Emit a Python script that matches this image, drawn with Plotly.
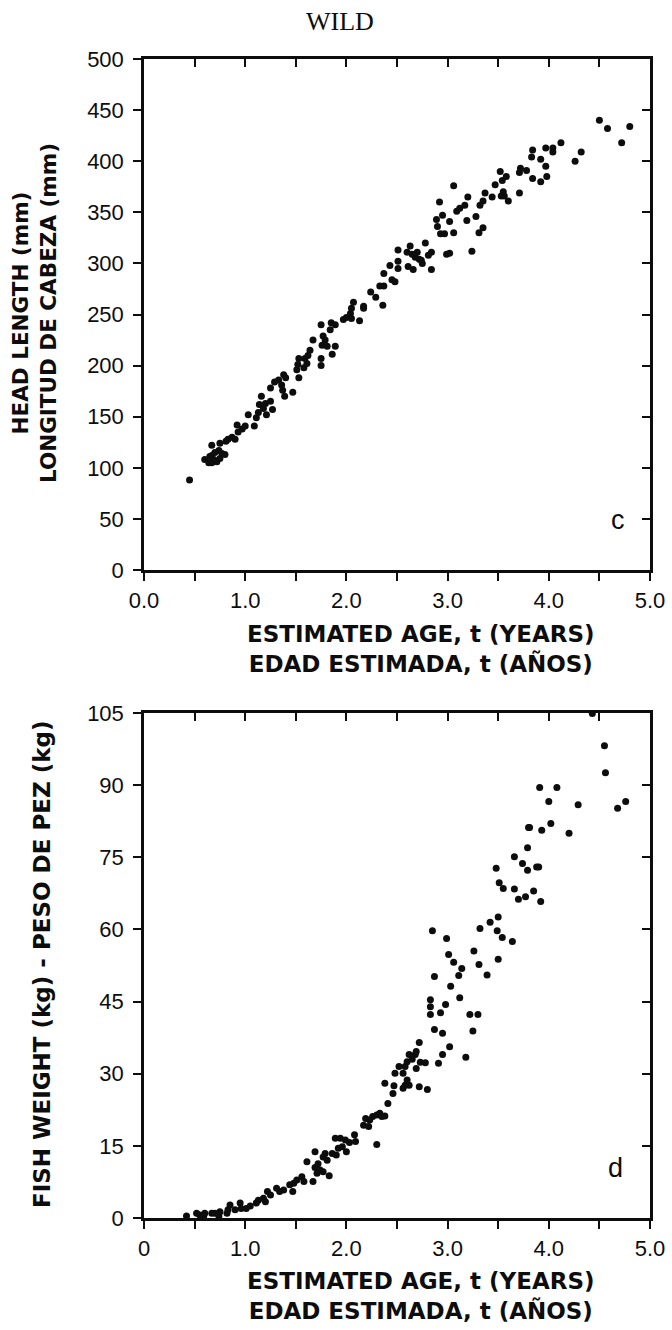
import plotly.graph_objects as go

# ---------------- data ----------------
# Panel c: head length (mm) vs estimated age (years)
age_c = [0.45,
         0.60, 0.64, 0.65, 0.67, 0.67, 0.67, 0.69, 0.70, 0.72, 0.74, 0.75, 0.75, 0.77, 0.80, 0.81,
         0.83, 0.87, 0.90, 0.92, 0.93, 0.97, 1.00, 1.03, 1.09, 1.11, 1.13, 1.14, 1.16, 1.18, 1.20,
         1.21, 1.25, 1.25, 1.27, 1.29, 1.33, 1.36, 1.37, 1.38, 1.39, 1.40, 1.47, 1.51, 1.52, 1.53,
         1.53, 1.58, 1.59, 1.61, 1.62, 1.64, 1.67, 1.75, 1.75, 1.75, 1.76, 1.77, 1.79, 1.81, 1.84,
         1.85, 1.86, 1.89, 1.89, 1.97, 2.00, 2.04, 2.05, 2.05, 2.07, 2.13, 2.17, 2.17, 2.24, 2.29,
         2.33, 2.36, 2.37, 2.37, 2.43, 2.45, 2.48, 2.51, 2.51, 2.51, 2.60, 2.61, 2.63, 2.65, 2.66,
         2.68, 2.70, 2.72, 2.74, 2.75, 2.78, 2.81, 2.84, 2.84, 2.89, 2.90, 2.92, 2.93, 2.95, 2.97,
         2.99, 3.02, 3.02, 3.06, 3.06, 3.09, 3.12, 3.17, 3.19, 3.20, 3.24, 3.28, 3.31, 3.32, 3.35,
         3.35, 3.37, 3.44, 3.47, 3.52, 3.53, 3.54, 3.55, 3.56, 3.58, 3.60, 3.71, 3.71, 3.72, 3.78,
         3.83, 3.84, 3.84, 3.92, 3.92, 3.97, 3.97, 3.98, 4.04, 4.04, 4.12, 4.26, 4.32, 4.50, 4.58,
         4.72, 4.80]
head_len = [88,
            108, 105, 111, 122, 105, 112, 108, 115, 106, 117, 124, 109, 114, 113, 126,
            128, 130, 128, 142, 135, 138, 141, 152, 141, 149, 154, 162, 170, 158, 163,
            152, 165, 178, 157, 184, 186, 181, 176, 191, 170, 188, 174, 196, 201, 207,
            188, 198, 207, 202, 210, 215, 225, 240, 207, 200, 220, 229, 225, 219, 235,
            242, 211, 240, 219, 245, 247, 251, 256, 246, 262, 244, 258, 256, 272, 267,
            278, 259, 290, 278, 298, 284, 282, 313, 302, 295, 311, 297, 317, 309, 294,
            306, 311, 304, 303, 300, 320, 308, 311, 294, 343, 336, 360, 329, 347, 329,
            309, 341, 310, 376, 330, 351, 354, 357, 342, 365, 312, 346, 330, 357, 361,
            335, 369, 365, 377, 390, 366, 381, 370, 366, 385, 361, 389, 369, 393, 391,
            404, 411, 383, 402, 380, 413, 395, 385, 413, 409, 418, 400, 409, 440, 432,
            418, 434]

# Panel d: fish weight (kg) vs estimated age (years)
age_d = [0.42, 0.52, 0.55, 0.59, 0.60, 0.67, 0.70, 0.74, 0.75, 0.82, 0.83, 0.85, 0.90, 0.95,
         0.96, 1.01, 1.05, 1.11, 1.13, 1.18, 1.20, 1.22, 1.25, 1.31, 1.34, 1.38, 1.44, 1.47,
         1.48, 1.51, 1.56, 1.58, 1.61, 1.67, 1.69, 1.69, 1.71, 1.72, 1.74, 1.77, 1.77, 1.79,
         1.81, 1.83, 1.86, 1.89, 1.90, 1.92, 1.94, 1.96, 1.99, 2.00, 2.03, 2.08, 2.09, 2.17,
         2.19, 2.22, 2.23, 2.26, 2.30, 2.30, 2.33, 2.35, 2.38, 2.38, 2.41, 2.46, 2.47, 2.48,
         2.52, 2.56, 2.56, 2.58, 2.58, 2.60, 2.60, 2.62, 2.62, 2.65, 2.68, 2.69, 2.69, 2.72,
         2.72, 2.73, 2.78, 2.80, 2.83, 2.83, 2.83, 2.85, 2.87, 2.87, 2.91, 2.93, 2.95, 2.95,
         2.98, 2.99, 3.01, 3.02, 3.03, 3.06, 3.11, 3.12, 3.14, 3.18, 3.22, 3.25, 3.26, 3.30,
         3.31, 3.32, 3.39, 3.42, 3.48, 3.49, 3.50, 3.50, 3.51, 3.54, 3.55, 3.64, 3.66, 3.66,
         3.70, 3.74, 3.77, 3.79, 3.79, 3.80, 3.81, 3.85, 3.88, 3.90, 3.91, 3.92, 3.93, 4.00,
         4.02, 4.08, 4.20, 4.29, 4.43, 4.55, 4.56, 4.68, 4.76]
weight = [0.4, 1.0, 0.6, 0.4, 1.0, 1.0, 1.0, 0.4, 1.3, 1.0, 1.7, 2.7, 1.7, 3.1,
          2.0, 2.0, 2.5, 3.1, 3.7, 4.1, 3.4, 5.5, 4.8, 6.2, 5.5, 5.8, 6.9, 5.5,
          7.2, 7.9, 8.6, 7.6, 11.7, 7.6, 13.8, 10.5, 9.3, 11.3, 10.0, 12.7, 9.6, 13.4,
          12.0, 8.8, 13.4, 16.6, 13.1, 14.5, 16.6, 14.8, 16.2, 13.8, 15.7, 17.3, 15.9, 19.3,
          20.7, 19.0, 20.4, 21.1, 21.4, 15.3, 21.8, 21.1, 21.2, 28.0, 23.8, 25.9, 27.5, 30.1,
          31.5, 30.1, 27.0, 31.5, 27.6, 32.5, 28.7, 34.0, 27.6, 33.0, 34.0, 34.6, 31.1, 36.5,
          27.3, 32.4, 32.3, 26.7, 45.4, 43.9, 42.3, 59.7, 50.2, 39.2, 32.2, 42.7, 38.4, 34.0,
          44.4, 58.1, 54.8, 35.6, 48.2, 53.2, 50.4, 45.8, 51.9, 33.4, 42.3, 38.9, 55.5, 42.3,
          52.7, 60.2, 50.5, 61.5, 72.7, 59.7, 62.6, 53.8, 69.7, 58.3, 68.5, 57.5, 75.1, 68.4,
          66.3, 73.7, 66.8, 77.0, 72.3, 81.2, 81.2, 68.0, 73.0, 73.0, 89.5, 65.8, 80.6, 86.6,
          82.0, 89.5, 80.0, 85.9, 104.9, 98.2, 92.6, 85.2, 86.6]

x_ticks = [0, 0.5, 1.0, 1.5, 2.0, 2.5, 3.0, 3.5, 4.0, 4.5, 5.0]
x_text_c = ["0.0", "", "1.0", "", "2.0", "", "3.0", "", "4.0", "", "5.0"]
x_text_d = ["0", "", "1.0", "", "2.0", "", "3.0", "", "4.0", "", "5.0"]
y_ticks_c = [0, 50, 100, 150, 200, 250, 300, 350, 400, 450, 500]
y_ticks_d = [0, 15, 30, 45, 60, 75, 90, 105]

# ---------------- layout helpers ----------------
W, H = 672, 1330
def px(x):
    return x / W
def py(y):
    return 1 - y / H

X_DOM = [px(144), px(650)]
C_DOM = [py(570), py(59)]
D_DOM = [py(1218), py(713)]

INK = "#0d0d0d"
TICK_FONT = dict(family="Liberation Sans, Arial, sans-serif", size=22, color=INK)

fig = go.Figure()
marker = dict(size=7, color=INK, line=dict(width=0))
fig.add_trace(go.Scatter(x=age_c, y=head_len, mode="markers", marker=marker,
                         xaxis="x", yaxis="y", showlegend=False, hoverinfo="skip"))
fig.add_trace(go.Scatter(x=age_d, y=weight, mode="markers", marker=marker,
                         xaxis="x2", yaxis="y2", showlegend=False, hoverinfo="skip"))
# empty traces that carry the inward-tick frame axes (top / right)
fig.add_trace(go.Scatter(x=[], y=[], xaxis="x3", yaxis="y3", showlegend=False))
fig.add_trace(go.Scatter(x=[], y=[], xaxis="x4", yaxis="y4", showlegend=False))

COMMON = dict(ticklen=8, tickwidth=2, tickcolor=INK, showline=True, linewidth=2.5,
              linecolor=INK, showgrid=False, zeroline=False, automargin=False,
              fixedrange=True)

def main_x(text, anchor):
    return dict(domain=X_DOM, range=[0, 5], anchor=anchor, tickmode="array",
                tickvals=x_ticks, ticktext=text, ticks="outside",
                tickfont=TICK_FONT, ticklabelstandoff=1, **COMMON)

def main_y(vals, dom, anchor):
    return dict(domain=dom, range=[0, vals[-1]], anchor=anchor, tickmode="array",
                tickvals=vals, ticks="outside", tickfont=TICK_FONT,
                ticklabelstandoff=5, **COMMON)

def frame_x(over, anchor):
    return dict(overlaying=over, side="top", anchor=anchor, range=[0, 5],
                tickmode="array", tickvals=x_ticks, ticks="inside",
                showticklabels=False, **COMMON)

def frame_y(over, vals, anchor):
    return dict(overlaying=over, side="right", anchor=anchor, range=[0, vals[-1]],
                tickmode="array", tickvals=vals, ticks="inside",
                showticklabels=False, **COMMON)

ann = []
def text(x, y, s, font, angle=0, xanchor="center", yanchor="middle"):
    ann.append(dict(x=px(x), y=py(y), xref="paper", yref="paper", text=s,
                    showarrow=False, font=font, textangle=angle,
                    xanchor=xanchor, yanchor=yanchor))

SERIF = dict(family="Liberation Serif, Times New Roman, serif", size=26, color=INK)
XT = dict(family="DejaVu Sans, Verdana, sans-serif", size=23, color=INK)
YT = dict(family="DejaVu Sans, Verdana, sans-serif", size=21.5, color=INK)
YT2 = dict(family="DejaVu Sans, Verdana, sans-serif", size=23, color=INK)
XTITLE = "<b>ESTIMATED AGE, t (YEARS)</b><br><b>EDAD ESTIMADA, t (AÑOS)</b>"
text(340, 22, "WILD", SERIF)
text(421, 649, XTITLE, XT)
text(421, 1296, XTITLE, XT)
text(35, 313, "<b>HEAD LENGTH (mm)</b><br><b>LONGITUD DE CABEZA (mm)</b>", YT, angle=-90)
text(42, 965, "<b>FISH WEIGHT (kg) - PESO DE PEZ (kg)</b>", YT2, angle=-90)
LETTER = dict(family="Liberation Sans, Arial, sans-serif", size=27, color=INK)
text(618, 520, "c", LETTER)
text(615, 1168, "d", LETTER)

fig.update_layout(
    template="none",
    width=W, height=H, margin=dict(l=0, r=0, t=0, b=0, pad=0),
    paper_bgcolor="white", plot_bgcolor="white",
    xaxis=main_x(x_text_c, "y"),
    yaxis=main_y(y_ticks_c, C_DOM, "x"),
    xaxis2=main_x(x_text_d, "y2"),
    yaxis2=main_y(y_ticks_d, D_DOM, "x2"),
    xaxis3=frame_x("x", "y3"),
    yaxis3=frame_y("y", y_ticks_c, "x3"),
    xaxis4=frame_x("x2", "y4"),
    yaxis4=frame_y("y2", y_ticks_d, "x4"),
    annotations=ann,
)

fig.write_html("out.html", config={"displayModeBar": False},
               post_script="document.body.style.margin='0';")
